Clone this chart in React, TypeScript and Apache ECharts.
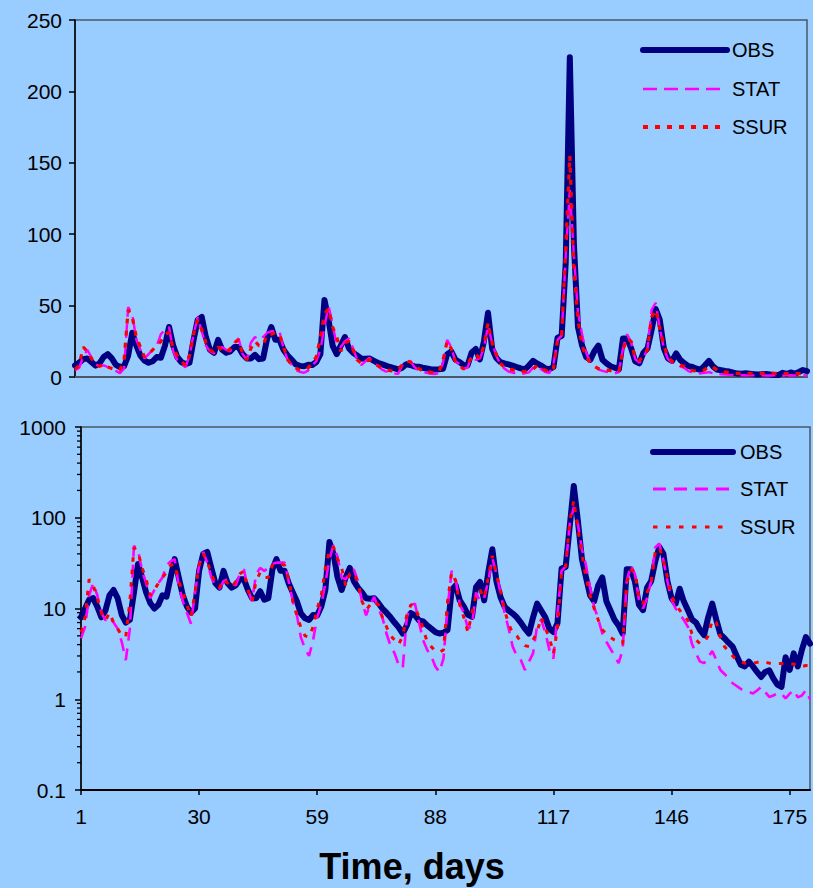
import React, { useEffect, useRef } from 'react';
import * as echarts from 'echarts';

// Day categories 1..180
const days: string[] = Array.from({ length: 180 }, (_, i) => String(i + 1));

// Observed values
const obs: number[] = [
  8, 10, 12.5, 13, 10.5, 8, 9.5, 14, 16, 13,
  8.5, 7, 7.5, 15, 31, 22, 15, 11.5, 10, 11,
  14, 13.5, 22, 35, 22, 14, 10.5, 9, 10, 26,
  40, 42, 28, 19, 17, 26, 19, 17, 18, 21,
  21, 16, 13, 13, 15.5, 12.5, 13, 27, 35, 26,
  26, 19, 15, 12,
  8.8, 7.8, 7.5, 8.5, 8.4, 10.5, 16, 54, 40, 22,
  16, 22, 28, 20, 17, 15, 13, 12.8, 13, 11.5,
  10, 9, 8, 7, 6.2, 5.3, 6.5, 8.9, 8.4, 7.4,
  7.2, 6.5, 6, 5.5, 5.3, 5.4, 5.8, 15.9, 18, 12.3,
  10.5, 8.5, 8.1, 17.2, 19.6, 12.3, 25, 45, 20, 13.4,
  10.5, 9.5, 8.8, 8, 7, 6, 5.3, 8, 11.3, 9.5,
  8, 6, 5.5, 6.9, 27.5, 28.7, 80, 224, 93, 35,
  22, 14, 12, 18, 22, 12, 9.5, 7.5, 6.5, 5.3,
  27, 27, 20, 11, 9.6, 17, 20, 33, 47.6, 40,
  20, 13, 11.3, 16.5, 12, 9.6,
  7.6, 7, 5.8, 5.1, 8, 11.3, 7.5, 5.2, 4.7, 4.2,
  3.8, 3, 2.4, 2.3, 2.6, 2.3, 2, 1.76, 2, 2.08,
  1.7, 1.45, 1.37, 2.9, 2.1, 3.2, 2.3, 3.5, 4.85, 4.1,
];

// STAT model values
const stat: number[] = [
  4.7, 6.3, 14, 19, 14, 9, 7.4, 8.1, 7, 6,
  4.3, 2.7, 6, 49, 44, 26, 19, 13, 16, 19,
  22, 30, 33, 35, 18, 12, 9, 6.8, 15, 30,
  42, 32, 22, 18, 16.5, 20, 21, 19, 18, 24,
  27, 16, 12, 24, 28, 26, 28, 31, 32, 32,
  32, 20, 12, 8.5,
  4.8, 3.6, 3, 4.5, 8, 11, 19, 35, 50, 37,
  22, 21, 25, 27, 20, 12, 8.4, 11, 13.4, 10,
  8, 5.3, 3.9, 3.2, 2.4, 2.2, 8, 11, 11.3, 7,
  4.5, 3.5, 3, 2.3, 2, 2.8, 10, 26, 21, 11,
  9, 6, 6.5, 15, 12, 13, 20, 36, 24, 15,
  9, 6, 3.8, 3, 2.7, 2.1, 2.6, 3.2, 6.5, 7.5,
  5.5, 3.5, 2.8, 8.8, 26, 29, 85, 131, 85, 45,
  30, 17, 10.4, 7.7, 5.3, 4.3, 3.6, 3, 2.5, 3.5,
  20, 30, 24, 12.5, 10, 13, 20, 47, 52, 34,
  20, 12.5, 10, 8.8, 7.5, 6.3,
  4.1, 3.2, 2.6, 2.5, 2.9, 3.4, 2.7, 2.1, 1.9, 1.7,
  1.5, 1.4, 1.3, 1.25, 1.2, 1.16, 1.25, 1.37, 1.2, 1.06,
  1.1, 1.16, 1.16, 1.02, 1.15, 1.26, 1.05, 1.1, 1.26, 1.0,
];

// SSUR model values
const ssur: number[] = [
  5.5, 8, 21, 18, 13, 9, 7.4, 9, 7, 6,
  5, 4.9, 12, 47, 42, 28, 21, 14, 16, 19,
  22, 25, 30, 31, 20, 15, 11, 8.1, 15, 30,
  40, 33, 24, 19, 17, 21, 19, 17, 20, 24,
  26, 16, 12, 20, 25, 22, 22, 30, 30, 31,
  30, 21, 12, 8.4,
  6.2, 5, 4.85, 6.3, 10, 14, 28, 44, 48, 35,
  28, 18, 24, 25, 19, 12, 9.6, 11, 12, 11,
  8, 6.3, 5, 4.5, 4, 5, 8.5, 11, 10.5, 8,
  6, 4.3, 3.8, 3.4, 3.3, 3.5, 12, 25, 20, 11,
  8, 5.5, 9, 14, 16, 13, 22, 38, 24, 16,
  9.6, 6.8, 5.3, 5, 4.3, 3.9, 3.8, 4.5, 5.5, 8,
  6, 4.8, 3.2, 6, 26, 29, 90, 155, 75, 40,
  22, 14, 10, 7.5, 5.8, 5.3, 4.8, 4.5, 4.3, 4.1,
  19, 27, 25, 13, 11.3, 15, 19, 42, 47, 34,
  22, 14, 11, 9.6, 8.3, 7.4,
  5.3, 4.5, 4.1, 4.2, 5, 7.5, 7, 4.8, 3.8, 3.4,
  3, 2.7, 2.6, 2.5, 2.5, 2.5, 2.55, 2.6, 2.55, 2.5,
  2.47, 2.47, 2.47, 2.47, 2.45, 2.45, 2.3, 2.3, 2.35, 2.36,
];

const seriesNames = ['OBS', 'STAT', 'SSUR'];
const xTickStep = 29;
const linMin = 0;
const linMax = 250;
const linStep = 50;
const logMin = 0.1;
const logMax = 1000;
const logMinorTicks: number[] = [
  0.2, 0.3, 0.4, 0.5, 0.6, 0.7, 0.8, 0.9,
  2, 3, 4, 5, 6, 7, 8, 9,
  20, 30, 40, 50, 60, 70, 80, 90,
  200, 300, 400, 500, 600, 700, 800, 900,
];
const xTitle = 'Time, days';

const FONT = 'Liberation Sans, Arial, Helvetica, sans-serif';
const NAVY = '#000080';
const MAGENTA = '#FF00FF';
const RED = '#FF0000';
const FRAME = '#4a5866';

function legendItems(x1: number, x2: number, ys: number[], textX: number, big: boolean) {
  const els: any[] = [];
  const styles = [
    { stroke: NAVY, lineWidth: 6, lineCap: 'round' },
    { stroke: MAGENTA, lineWidth: big ? 2.6 : 3, lineDash: big ? [14, 7] : [13, 8] },
    { stroke: RED, lineWidth: big ? 4 : 3, lineDash: big ? [5, 7] : [4.5, 8.5] },
  ];
  seriesNames.forEach((name, i) => {
    els.push({
      type: 'line',
      shape: { x1, y1: ys[i], x2: i === 0 ? x2 : x2 - 3, y2: ys[i] },
      style: styles[i],
      z: 100,
    });
    els.push({
      type: 'text',
      x: textX,
      y: ys[i],
      style: { text: name, fill: '#000', font: `20px ${FONT}`, verticalAlign: 'middle', align: 'left' },
      z: 100,
    });
  });
  return els;
}

export default function App() {
  const ref = useRef<HTMLDivElement>(null);
  useEffect(() => {
    document.body.style.margin = '0';
    document.body.style.background = '#99CCFF';
    const chart = echarts.init(ref.current!, null, { renderer: 'svg' });
    const labelStyle = { color: '#000', fontSize: 21, fontFamily: FONT };
    const lineSeries = (gi: number) => [
      {
        name: 'OBS', type: 'line', xAxisIndex: gi, yAxisIndex: gi, data: obs,
        symbol: 'none', showSymbol: false, z: 2,
        lineStyle: { color: NAVY, width: 6, cap: 'round', join: 'round' },
      },
      {
        name: 'STAT', type: 'line', xAxisIndex: gi, yAxisIndex: gi, data: stat,
        symbol: 'none', showSymbol: false, z: 3,
        lineStyle: { color: MAGENTA, width: gi === 0 ? 2.4 : 2.6, type: gi === 0 ? [14, 7] : [13, 8] },
      },
      {
        name: 'SSUR', type: 'line', xAxisIndex: gi, yAxisIndex: gi, data: ssur,
        symbol: 'none', showSymbol: false, z: 4,
        lineStyle: { color: RED, width: gi === 0 ? 3.2 : 3, type: gi === 0 ? [5, 7] : [4.5, 8] },
      },
    ];
    const baseGraphic: any[] = [
      ...legendItems(643, 727, [50, 89, 127], 732, true),
      ...legendItems(653, 733, [452, 489, 527], 740, false),
      {
        type: 'text', x: 412, y: 866,
        style: { text: xTitle, fill: '#000', font: `bold 36px ${FONT}`, align: 'center', verticalAlign: 'middle' },
      },
    ];
    const option: any = {
      animation: false,
      backgroundColor: '#99CCFF',
      grid: [
        { left: 75, top: 20, width: 732, height: 357, show: true, borderColor: FRAME, borderWidth: 1.5, backgroundColor: 'transparent' },
        { left: 81, top: 427, width: 729, height: 363, show: true, borderColor: FRAME, borderWidth: 1.5, backgroundColor: 'transparent' },
      ],
      xAxis: [
        {
          type: 'category', gridIndex: 0, data: days, boundaryGap: false,
          axisLine: { lineStyle: { color: FRAME, width: 2 } },
          axisTick: { show: false }, axisLabel: { show: false }, splitLine: { show: false },
        },
        {
          type: 'category', gridIndex: 1, data: days, boundaryGap: false,
          axisLine: { lineStyle: { color: '#000', width: 2 } },
          axisTick: { show: true, length: 5, interval: (i: number) => i % xTickStep === 0, lineStyle: { color: '#000', width: 1.5 } },
          axisLabel: { ...labelStyle, margin: 16, interval: (i: number) => i % xTickStep === 0 },
          splitLine: { show: false },
        },
      ],
      yAxis: [
        {
          type: 'value', gridIndex: 0, min: linMin, max: linMax, interval: linStep,
          axisLine: { show: true, lineStyle: { color: '#000', width: 1.5 } },
          axisTick: { show: true, length: 6, lineStyle: { color: '#000', width: 1.5 } },
          axisLabel: { ...labelStyle, margin: 13 },
          splitLine: { show: false },
        },
        {
          type: 'log', gridIndex: 1, min: logMin, max: logMax, logBase: 10,
          axisLine: { show: true, lineStyle: { color: '#000', width: 1.5 } },
          axisTick: { show: true, length: 6, lineStyle: { color: '#000', width: 1.5 } },
          axisLabel: { ...labelStyle, margin: 15, formatter: (v: number) => String(+Number(v).toPrecision(6)) },
          splitLine: { show: false },
        },
      ],
      series: [...lineSeries(0), ...lineSeries(1)],
      graphic: baseGraphic,
    };
    chart.setOption(option);

    // Log-axis minor ticks placed through the axis' own scale
    const minorEls: any[] = [];
    logMinorTicks.forEach((v) => {
      const p = chart.convertToPixel({ xAxisIndex: 1, yAxisIndex: 1 } as any, [0, v]) as any;
      if (p && isFinite(p[0]) && isFinite(p[1])) {
        minorEls.push({
          type: 'line',
          shape: { x1: p[0] - 4, y1: p[1], x2: p[0], y2: p[1] },
          style: { stroke: '#000', lineWidth: 1.3 },
          z: 50,
        });
      }
    });
    chart.setOption({ graphic: [...baseGraphic, ...minorEls] });
    return () => chart.dispose();
  }, []);
  return <div ref={ref} style={{ position: 'absolute', left: 0, top: 0, width: 813, height: 888 }} />;
}
